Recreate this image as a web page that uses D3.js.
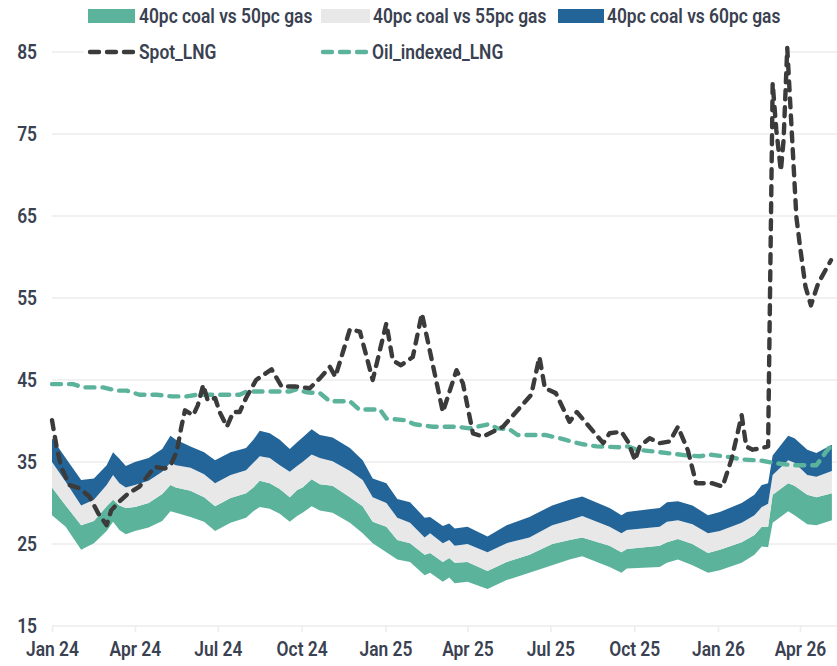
<!DOCTYPE html>
<html>
<head>
<meta charset="utf-8">
<script src="https://cdn.jsdelivr.net/npm/d3@7"></script>
<style>
  html, body { margin: 0; padding: 0; background: #ffffff; }
  svg { display: block; font-family: Roboto, "Noto Sans", sans-serif; }
</style>
</head>
<body>
<svg id="chart" width="837" height="666"></svg>
<script>
// Coal-to-gas switching price bands with spot and oil-indexed LNG prices

const bandDates = [
  "2024-01-01","2024-01-16","2024-02-02","2024-02-16","2024-03-01","2024-03-08","2024-03-15","2024-03-22","2024-04-01","2024-04-16",
  "2024-05-01","2024-05-10","2024-05-16","2024-06-01","2024-06-16","2024-06-28","2024-07-15","2024-08-01","2024-08-09","2024-08-16",
  "2024-08-27","2024-09-07","2024-09-18","2024-09-26","2024-10-02","2024-10-12","2024-10-21","2024-11-04","2024-11-23","2024-12-07",
  "2024-12-18","2025-01-02","2025-01-14","2025-01-28","2025-02-13","2025-02-19","2025-03-05","2025-03-12","2025-03-18","2025-04-01",
  "2025-04-23","2025-05-14","2025-06-08","2025-07-03","2025-07-22","2025-08-05","2025-09-04","2025-09-17","2025-09-23","2025-10-29",
  "2025-11-06","2025-11-18","2025-12-04","2025-12-21","2026-01-03","2026-01-27","2026-02-10","2026-02-18","2026-02-25","2026-03-02",
  "2026-03-19","2026-03-26","2026-04-09","2026-04-19","2026-05-06"
];

// 40pc coal vs 50pc gas: lower and upper edge
const band50Low = [
  28.5,27.1,24.3,25.1,26.6,27.7,26.7,26.2,26.6,27.0,
  27.8,29.0,28.8,28.3,27.7,26.6,27.6,28.2,29.0,29.5,
  29.3,28.7,27.7,28.4,28.8,29.6,29.1,28.8,27.6,26.3,
  25.1,24.0,23.1,22.8,21.2,21.5,20.4,20.9,20.2,20.4,
  19.5,20.6,21.5,22.4,23.1,23.5,22.2,21.5,22.0,22.2,
  22.7,23.1,22.4,21.5,21.8,22.7,23.7,24.7,24.6,27.6,
  29.0,28.5,27.4,27.3,27.9
];
const band50High = [
  31.9,29.7,27.3,27.8,29.6,30.4,29.7,29.4,29.5,30.0,
  31.1,32.2,31.9,31.5,30.7,29.6,30.6,31.2,31.9,32.7,
  32.4,31.7,30.7,31.6,31.9,32.9,32.3,32.1,30.7,29.6,
  27.7,27.1,25.5,25.1,23.7,23.9,22.8,23.3,22.7,22.8,
  21.7,22.8,23.7,25.0,25.5,25.8,24.8,24.0,24.4,24.8,
  25.2,25.6,25.0,23.9,24.3,25.2,26.1,27.1,27.1,31.0,
  32.4,32.1,31.0,30.7,31.2
];
// 40pc coal vs 55pc gas: upper edge (lower edge is band50High)
const band55High = [
  35.0,32.6,29.7,30.4,32.2,33.4,32.4,31.9,32.2,32.7,
  33.8,34.9,34.6,34.3,33.5,32.4,33.4,34.0,34.9,35.7,
  35.5,34.6,33.8,34.5,35.0,35.9,35.5,35.1,33.9,32.8,
  30.7,30.0,28.2,27.6,25.8,26.3,25.1,25.5,24.8,25.0,
  24.0,25.1,25.8,27.3,27.9,28.4,27.1,26.3,26.7,27.1,
  27.7,27.9,27.4,26.3,26.6,27.6,28.5,29.5,29.9,33.4,
  35.2,34.9,33.4,33.2,33.9
];
// 40pc coal vs 60pc gas: upper edge (lower edge is band55High)
const band60High = [
  37.9,35.5,32.8,33.0,34.6,36.2,35.4,34.5,35.0,35.5,
  36.6,38.2,37.7,36.9,36.2,35.2,36.2,36.7,37.7,38.8,
  38.5,37.7,36.6,37.4,38.0,39.0,38.3,38.0,36.7,35.2,
  33.0,32.4,30.5,30.1,28.2,28.3,27.2,27.5,26.9,27.1,
  25.9,27.3,28.3,29.7,30.4,30.8,29.4,28.5,28.9,29.4,
  30.1,30.2,29.7,28.5,28.9,30.0,31.0,32.2,32.4,35.8,
  38.2,37.9,36.5,36.1,37.1
];

const spotDates = [
  "2024-01-01","2024-01-06","2024-01-11","2024-01-20","2024-01-31","2024-02-11","2024-02-21","2024-03-01","2024-03-06","2024-03-15",
  "2024-03-24","2024-04-06","2024-04-17","2024-04-23","2024-05-04","2024-05-11","2024-05-17","2024-05-22","2024-05-26","2024-06-04",
  "2024-06-09","2024-06-15","2024-06-20","2024-06-28","2024-07-03","2024-07-11","2024-07-18","2024-07-25","2024-08-01","2024-08-12",
  "2024-08-29","2024-09-09","2024-09-25","2024-10-10","2024-10-21","2024-11-01","2024-11-07","2024-11-23","2024-12-04","2024-12-18",
  "2025-01-02","2025-01-09","2025-01-18","2025-01-31","2025-02-10","2025-03-05","2025-03-20","2025-03-27","2025-04-07","2025-04-18",
  "2025-05-10","2025-06-10","2025-06-19","2025-06-25","2025-07-07","2025-07-22","2025-07-30","2025-08-28","2025-09-04","2025-09-17",
  "2025-09-24","2025-10-02","2025-10-07","2025-10-18","2025-10-29","2025-11-09","2025-11-18","2025-11-29","2025-12-08","2025-12-26",
  "2026-01-06","2026-01-16","2026-01-27","2026-02-01","2026-02-08","2026-02-18","2026-02-25","2026-03-02","2026-03-06","2026-03-11",
  "2026-03-14","2026-03-18","2026-03-28","2026-04-01","2026-04-07","2026-04-13","2026-04-21","2026-05-05"
];
const spotLNG = [
  40.1,36.9,34.4,32.2,31.8,30.8,28.7,27.3,29.1,30.2,
  31.1,32.0,33.6,34.4,34.2,34.8,36.3,39.3,41.3,40.7,
  41.9,44.4,42.5,42.8,41.1,39.3,41.1,41.1,42.8,45.0,
  46.3,44.2,44.2,44.0,45.2,46.6,45.4,51.2,50.9,45.0,
  51.9,47.4,46.8,47.8,53.1,41.1,46.2,44.6,38.5,38.1,
  39.3,43.2,47.8,44.0,43.4,39.9,41.1,37.3,38.5,38.7,
  37.5,35.2,36.9,37.9,37.3,37.5,39.3,36.4,32.4,32.4,
  32.0,35.4,40.7,36.9,36.5,36.7,36.9,81.2,75.5,70.5,
  74.3,85.5,64.9,61.3,56.4,54.1,56.8,59.6
];

const oilDates = [
  "2024-01-01","2024-01-24","2024-02-04","2024-02-26","2024-03-12","2024-03-23","2024-04-06","2024-04-25","2024-05-12","2024-05-28",
  "2024-06-08","2024-07-25","2024-08-02","2024-09-18","2024-09-26","2024-10-06","2024-10-21","2024-11-01","2024-11-23","2024-12-03",
  "2024-12-26","2025-01-02","2025-01-22","2025-02-02","2025-02-22","2025-03-20","2025-04-03","2025-04-24","2025-05-04","2025-05-17",
  "2025-05-26","2025-06-25","2025-07-15","2025-07-24","2025-08-04","2025-08-21","2025-09-15","2025-09-24","2025-10-04","2025-10-29",
  "2025-11-28","2025-12-12","2025-12-23","2026-01-14","2026-01-27","2026-02-16","2026-03-02","2026-03-24","2026-04-19","2026-04-30",
  "2026-05-06"
];
const oilIndexedLNG = [
  44.5,44.5,44.1,44.1,43.7,43.7,43.2,43.2,43.0,43.0,
  43.2,43.2,43.6,43.6,43.9,43.5,43.4,42.4,42.4,41.4,
  41.4,40.3,40.1,39.6,39.3,39.3,39.1,39.6,39.1,39.0,
  38.3,38.3,37.8,37.5,37.2,36.9,36.8,36.9,36.5,36.2,
  35.8,35.7,35.9,35.6,35.3,35.2,34.9,34.6,34.6,36.3,
  37.1
];

const yTicks = [15, 25, 35, 45, 55, 65, 75, 85];
const xTickDates = ["2024-01-01","2024-04-01","2024-07-01","2024-10-01","2025-01-01","2025-04-01",
                    "2025-07-01","2025-10-01","2026-01-01","2026-04-01"];

const seriesNames = {
  g50: "40pc coal vs 50pc gas",
  g55: "40pc coal vs 55pc gas",
  g60: "40pc coal vs 60pc gas",
  spot: "Spot_LNG",
  oil: "Oil_indexed_LNG"
};

const colors = {
  g50: "#5cb39c",
  g55: "#e8e8e8",
  g60: "#236599",
  spot: "#3b3b3b",
  oil: "#5cb39c",
  grid: "#ededed",
  text: "#3a4150"
};

const parse = d3.timeParse("%Y-%m-%d");
const svg = d3.select("#chart");

const x = d3.scaleTime()
  .domain([parse("2024-01-01"), parse("2026-04-01")])
  .range([52, 800]);
const y = d3.scaleLinear().domain([15, 85]).range([626, 52]);
const plotRight = 837;

// narrow, tall lettering
const font = { size: 20, weight: 600, squeeze: 0.87 };

// horizontal gridlines
svg.append("g").selectAll("line")
  .data(yTicks).join("line")
  .attr("x1", 52).attr("x2", plotRight)
  .attr("y1", d => y(d)).attr("y2", d => y(d))
  .attr("stroke", colors.grid).attr("stroke-width", 1.6);

// y axis labels
svg.append("g").selectAll("text")
  .data(yTicks).join("text")
  .attr("transform", d => `translate(37,${y(d)}) scale(${font.squeeze},1)`)
  .attr("dy", "0.36em")
  .attr("text-anchor", "end")
  .attr("font-size", font.size).attr("font-weight", font.weight)
  .attr("fill", colors.text)
  .text(d => d);

// x axis: ticks and labels
const xAxis = d3.axisBottom(x)
  .tickValues(xTickDates.map(parse))
  .tickFormat(d3.timeFormat("%b %y"))
  .tickSize(6).tickPadding(10);
const gx = svg.append("g").attr("transform", `translate(0,${y(15)})`).call(xAxis);
gx.select(".domain").remove();
gx.selectAll(".tick line").attr("stroke", colors.grid).attr("stroke-width", 1.6);
gx.selectAll(".tick text")
  .attr("transform", `scale(${font.squeeze},1)`)
  .attr("font-size", font.size).attr("font-weight", font.weight)
  .attr("font-family", "Roboto, 'Noto Sans', sans-serif")
  .attr("fill", colors.text);

// legend panel
const legend = svg.append("g");
legend.append("rect").attr("x", 84).attr("y", 0).attr("width", 702).attr("height", 62).attr("fill", "#ffffff");

// stacked switching-price bands
const bandRows = bandDates.map((d, i) => ({
  date: parse(d),
  b0: band50Low[i], b1: band50High[i], b2: band55High[i], b3: band60High[i]
}));
const bandLayers = [
  { key: "g50", lo: "b0", hi: "b1" },
  { key: "g55", lo: "b1", hi: "b2" },
  { key: "g60", lo: "b2", hi: "b3" }
];
svg.append("g").selectAll("path")
  .data(bandLayers).join("path")
  .attr("fill", d => colors[d.key])
  .attr("d", layer => d3.area()
    .x(r => x(r.date))
    .y0(r => y(r[layer.lo]))
    .y1(r => y(r[layer.hi]))(bandRows));

// LNG price lines
const lineGen = d3.line().x(p => x(p.date)).y(p => y(p.v));
const oilRows = oilDates.map((d, i) => ({ date: parse(d), v: oilIndexedLNG[i] }));
const spotRows = spotDates.map((d, i) => ({ date: parse(d), v: spotLNG[i] }));

svg.append("path")
  .attr("d", lineGen(oilRows))
  .attr("fill", "none").attr("stroke", colors.oil).attr("stroke-width", 4.4)
  .attr("stroke-dasharray", "9 8").attr("stroke-linecap", "round").attr("stroke-linejoin", "round");

svg.append("path")
  .attr("d", lineGen(spotRows))
  .attr("fill", "none").attr("stroke", colors.spot).attr("stroke-width", 4.4)
  .attr("stroke-dasharray", "9 8").attr("stroke-linecap", "round").attr("stroke-linejoin", "round");

// legend entries
const legendItems = [
  { key: "g50", type: "box", x: 88, y: 16, w: 47, tx: 139 },
  { key: "g55", type: "box", x: 321, y: 16, w: 49, tx: 373 },
  { key: "g60", type: "box", x: 558, y: 16, w: 46, tx: 607 },
  { key: "spot", type: "line", x: 88, y: 52, w: 47, tx: 139 },
  { key: "oil", type: "line", x: 321, y: 52, w: 47, tx: 372 }
];
const li = legend.selectAll("g.item").data(legendItems).join("g").attr("class", "item");
li.filter(d => d.type === "box").append("rect")
  .attr("x", d => d.x).attr("y", d => d.y - 7)
  .attr("width", d => d.w).attr("height", 14)
  .attr("fill", d => colors[d.key]);
li.filter(d => d.type === "line").append("line")
  .attr("x1", d => d.x + 2).attr("x2", d => d.x + d.w - 2)
  .attr("y1", d => d.y).attr("y2", d => d.y)
  .attr("stroke", d => colors[d.key]).attr("stroke-width", 4.4)
  .attr("stroke-dasharray", "9 8").attr("stroke-linecap", "round");
li.append("text")
  .attr("transform", d => `translate(${d.tx},${d.y}) scale(${font.squeeze},1)`)
  .attr("dy", "0.36em")
  .attr("font-size", font.size).attr("font-weight", font.weight)
  .attr("fill", colors.text)
  .text(d => seriesNames[d.key]);
</script>
</body>
</html>
